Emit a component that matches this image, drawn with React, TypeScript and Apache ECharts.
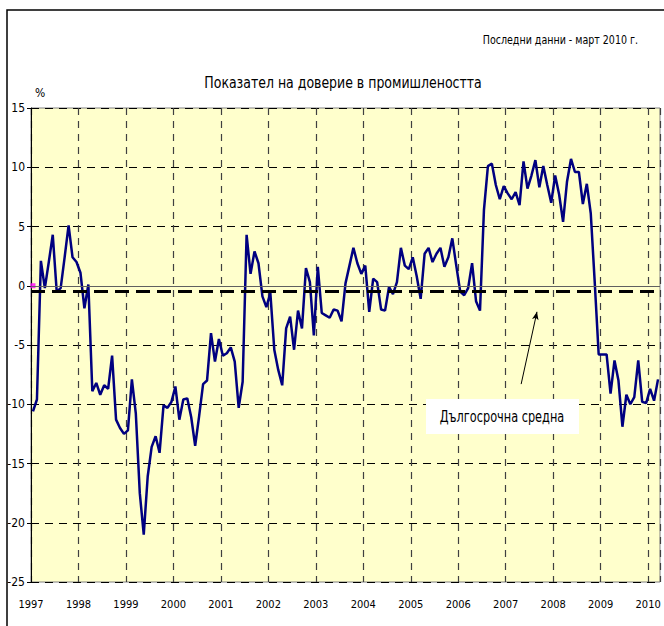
import React, { useEffect, useRef } from "react";
import * as echarts from "echarts";

// Tick labels (one per January)
const yearLabels = ["1997","1998","1999","2000","2001","2002","2003","2004","2005","2006","2007","2008","2009","2010"];

// Monthly industry confidence indicator, %
const v1997 = [-10.6, -9.6, 2.1, -0.2, 2.0, 4.3, -0.5, -0.2, 2.4, 5.1, 2.4, 2.0];
const v1998 = [1.1, -1.9, 0.1, -8.9, -8.2, -9.2, -8.4, -8.7, -5.9, -11.3, -12.0, -12.5];
const v1999 = [-12.2, -7.9, -10.8, -17.5, -21.0, -16.1, -13.6, -12.7, -14.1, -10.1, -10.3, -9.8];
const v2000 = [-8.5, -11.3, -9.6, -9.5, -11.1, -13.5, -11.0, -8.3, -8.0, -4.0, -6.4, -4.5];
const v2001 = [-5.9, -5.7, -5.2, -6.4, -10.3, -8.1, 4.3, 1.0, 2.9, 1.9, -0.9, -1.8];
const v2002 = [-0.6, -5.4, -7.1, -8.4, -3.6, -2.6, -5.4, -2.1, -3.6, 1.5, 0.3, -4.2];
const v2003 = [1.6, -2.3, -2.5, -2.7, -2.0, -2.1, -3.0, 0.2, 1.7, 3.2, 1.9, 1.0];
const v2004 = [1.7, -2.2, 0.6, 0.3, -2.0, -2.1, -0.1, -0.7, 0.3, 3.2, 1.7, 1.4];
const v2005 = [2.4, 0.8, -1.1, 2.7, 3.2, 2.0, 2.7, 3.2, 1.6, 2.4, 4.0, 1.7];
const v2006 = [-0.5, -0.8, -0.2, 1.9, -1.3, -2.1, 6.4, 10.1, 10.3, 8.5, 7.3, 8.4];
const v2007 = [7.8, 7.3, 7.9, 6.8, 10.5, 8.2, 9.3, 10.6, 8.3, 10.1, 8.5, 7.0];
const v2008 = [9.3, 7.7, 5.4, 8.8, 10.7, 9.6, 9.6, 6.9, 8.6, 6.1, 0.3, -5.8];
const v2009 = [-5.8, -5.8, -9.1, -6.3, -8.0, -11.9, -9.2, -10.0, -9.4, -6.3, -9.8, -9.9];
const v2010 = [-8.7, -9.7, -7.9];

const longTermAverage = -0.5;
const startMarker = 0;

const FF = "'DejaVu Sans Condensed', 'Liberation Sans Narrow', sans-serif";

export default function App() {
  const ref = useRef<HTMLDivElement>(null);
  useEffect(() => {
    if (!ref.current) return;
    const chart = echarts.init(ref.current, undefined, { renderer: "svg" });
    const all = [
      ...v1997, ...v1998, ...v1999, ...v2000, ...v2001, ...v2002, ...v2003,
      ...v2004, ...v2005, ...v2006, ...v2007, ...v2008, ...v2009, ...v2010,
    ];
    const lineData = all.map((v, i) => [i + 0.5, v]);
    const nMonths = yearLabels.length * 12 - 9; // Jan 1997 .. end of Mar 2010

    chart.setOption({
      animation: false,
      grid: {
        left: 31, top: 108, width: 629, height: 474,
        show: true, backgroundColor: "#FFFFCC", borderColor: "#808080", borderWidth: 1,
      },
      xAxis: {
        type: "value", min: 0, max: nMonths, interval: 12,
        axisLine: { show: false },
        axisTick: { show: false },
        axisLabel: {
          fontFamily: FF, fontSize: 11, color: "#000", margin: 17,
          formatter: (v: number) => (v % 12 === 0 ? yearLabels[v / 12] ?? "" : ""),
        },
        splitLine: { show: true, lineStyle: { color: "#404040", width: 1.2, type: [7, 6] } },
      },
      yAxis: {
        type: "value", min: -25, max: 15, interval: 5,
        axisLine: { show: true, lineStyle: { color: "#000", width: 1 } },
        axisTick: { show: true, length: 4, lineStyle: { color: "#000" } },
        axisLabel: { fontFamily: FF, fontSize: 12, color: "#000", margin: 6 },
        splitLine: { show: true, lineStyle: { color: "#000", width: 1, type: [8, 6] } },
      },
      series: [
        {
          type: "line",
          data: lineData,
          showSymbol: false,
          symbol: "none",
          lineStyle: { color: "#000080", width: 2.5 },
          z: 3,
          markLine: {
            silent: true,
            symbol: "none",
            label: { show: false },
            data: [
              { yAxis: 0, lineStyle: { color: "#606060", width: 1, type: "solid" } },
              { yAxis: longTermAverage, lineStyle: { color: "#000", width: 3, type: [14, 7] } },
              [
                { coord: [123.9, -8.3], symbol: "none" },
                { coord: [127.9, -2.2], symbol: "arrow", symbolSize: [5, 8] },
              ],
            ],
            lineStyle: { color: "#000", width: 1, type: "solid" },
          },
        },
        {
          type: "scatter",
          data: [[0.5, startMarker]],
          symbol: "rect",
          symbolSize: 5,
          itemStyle: { color: "#FF00FF" },
          z: 4,
        },
      ],
      graphic: [
        { type: "rect", shape: { x: 7, y: 10, width: 700, height: 700 }, style: { fill: "none", stroke: "#000", lineWidth: 1.5 }, silent: true },
        { type: "text", x: 638, y: 40, scaleX: 0.88, style: { text: "Последни данни - март 2010 г.", fontFamily: FF, fontSize: 12, fill: "#000", align: "right", verticalAlign: "middle" } },
        { type: "text", x: 343, y: 83, scaleX: 0.87, style: { text: "Показател на доверие в промишлеността", fontFamily: FF, fontSize: 16, fill: "#000", align: "center", verticalAlign: "middle" } },
        { type: "text", x: 35, y: 93, style: { text: "%", fontFamily: FF, fontSize: 12, fill: "#000", align: "left", verticalAlign: "middle" } },
        { type: "rect", z: 100, shape: { x: 426, y: 399, width: 153, height: 35 }, style: { fill: "#FFFFFF", stroke: "none" } },
        { type: "text", z: 101, x: 502, y: 417, scaleX: 0.84, style: { text: "Дългосрочна средна", fontFamily: FF, fontSize: 15, fill: "#000", align: "center", verticalAlign: "middle" } },
      ],
    });
    return () => chart.dispose();
  }, []);
  return <div ref={ref} style={{ position: "absolute", left: 0, top: 0, width: 664, height: 626, background: "#fff" }} />;
}
